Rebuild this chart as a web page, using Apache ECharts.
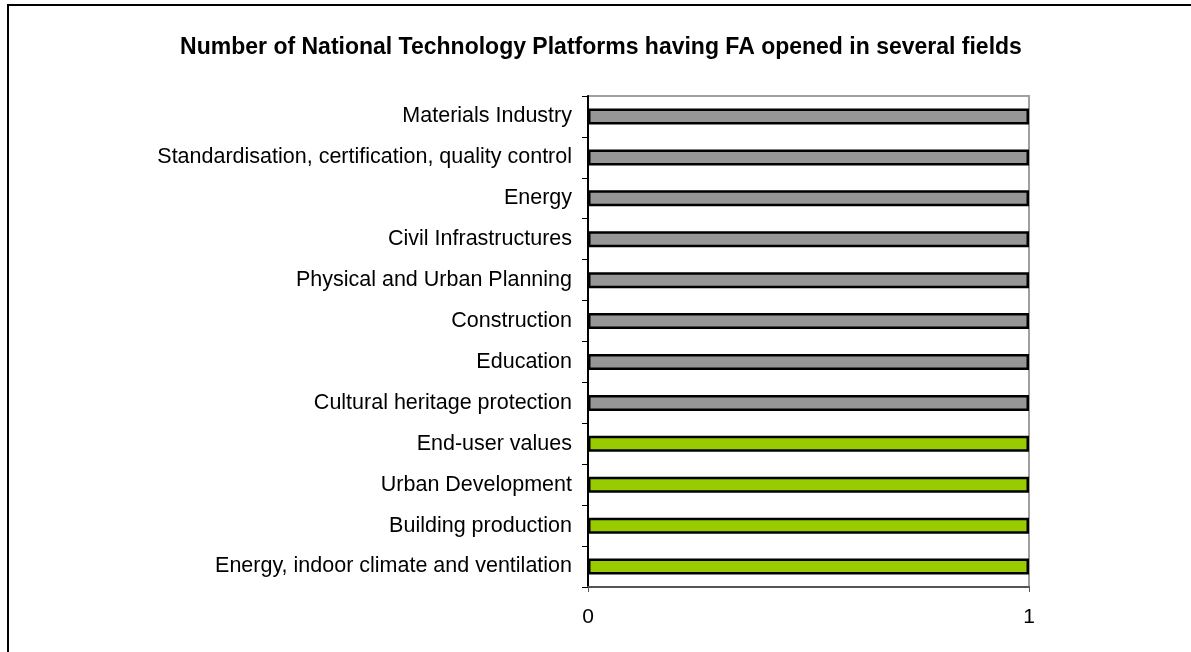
<!DOCTYPE html>
<html>
<head>
<meta charset="utf-8">
<script src="https://cdn.jsdelivr.net/npm/echarts@6/dist/echarts.min.js"></script>
<style>html,body{margin:0;padding:0;background:#fff}#c{width:1191px;height:652px}</style>
</head>
<body>
<div id="c"></div>
<script>
// categories listed bottom to top
var categories = [
  "Energy, indoor climate and ventilation",
  "Building production",
  "Urban Development",
  "End-user values",
  "Cultural heritage protection",
  "Education",
  "Construction",
  "Physical and Urban Planning",
  "Civil Infrastructures",
  "Energy",
  "Standardisation, certification, quality control",
  "Materials Industry"
];
var values = [1, 1, 1, 1, 1, 1, 1, 1, 1, 1, 1, 1];
var barColors = ["#99CC00", "#99CC00", "#99CC00", "#99CC00",
  "#969696", "#969696", "#969696", "#969696", "#969696", "#969696", "#969696", "#969696"];
var xTicks = [0, 1];
var title = "Number of National Technology Platforms having FA opened in several fields";

var chart = echarts.init(document.getElementById('c'), null, {renderer: 'canvas'});
chart.setOption({
  animation: false,
  backgroundColor: '#fff',
  title: {
    text: title, left: 596, top: 31, textAlign: 'center',
    textStyle: {fontFamily: 'Liberation Sans, Arial', fontSize: 23, fontWeight: 'bold', color: '#000'}
  },
  graphic: [{
    type: 'rect', shape: {x: 8, y: 5, width: 1300, height: 800},
    style: {fill: 'none', stroke: '#000', lineWidth: 2}, z: 100
  }],
  grid: {
    left: 588, right: 162, top: 96, bottom: 65,
    show: true, borderColor: '#a0a0a0', borderWidth: 2, backgroundColor: 'transparent'
  },
  xAxis: {
    type: 'value', min: 0, max: 1, interval: 1,
    axisLine: {show: true, onZero: false, lineStyle: {color: '#555', width: 2}},
    axisTick: {show: true, length: 5, lineStyle: {color: '#555', width: 1}},
    splitLine: {show: false},
    axisLabel: {
      margin: 20, color: '#000', fontFamily: 'Liberation Sans, Arial', fontSize: 21,
      formatter: function (v) { return xTicks.indexOf(v) >= 0 ? String(v) : ''; }
    }
  },
  yAxis: {
    type: 'category', data: categories,
    axisLine: {show: true, lineStyle: {color: '#000', width: 2}},
    axisTick: {show: true, length: 6, lineStyle: {color: '#000', width: 1}},
    axisLabel: {margin: 16, color: '#000', fontFamily: 'Liberation Sans, Arial', fontSize: 21.5}
  },
  series: [{
    type: 'bar',
    data: values.map(function (v, i) {
      return {value: v, itemStyle: {color: barColors[i]}};
    }),
    barWidth: 16,
    itemStyle: {borderColor: '#000', borderWidth: 2.5}
  }]
});
</script>
</body>
</html>
